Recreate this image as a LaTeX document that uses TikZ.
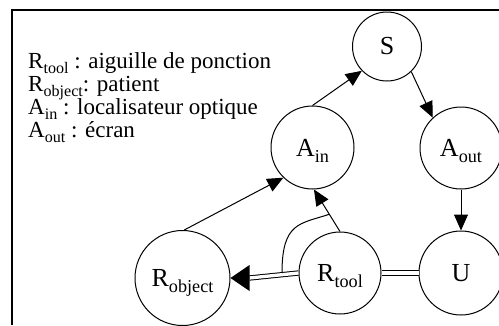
\documentclass[tikz,border=0pt]{standalone}
\usepackage{fontspec}
\usepackage{graphicx}
\setmainfont{Liberation Serif}
\usetikzlibrary{arrows.meta,calc}
% lowered, reduced subscript with no height or depth of its own
\newcommand\lowsub[1]{\raisebox{-0.24em}[0pt][0pt]{\scalebox{0.7}{#1}}}
\tikzset{
  state/.style={circle, draw, line width=1pt, inner sep=0pt, minimum size=#1,
    font=\fontsize{26}{26}\selectfont},
  link/.style={line width=1pt},
  tip/.style={-{Triangle[length=16pt,width=14pt]}},
  twin/.style={double, double distance=3.3pt, line width=1pt},
  legend/.style={anchor=base west, inner sep=0pt, font=\fontsize{23}{23}\selectfont},
}
\begin{document}
\begin{tikzpicture}[x=1pt, y=-1pt]
\useasboundingbox (0,0) rectangle (499,325);
\fill[white] (0,0) rectangle (499,325);
% frame
\draw[line width=2pt] (12,325) -- (12,10) -- (499,10);

% legend
\node[legend] (l1) at (28,68) {R\lowsub{tool} : aiguille de ponction};
\node[legend] (l2) at (28,91) {R\lowsub{object}: patient};
\node[legend] (l3) at (28,114) {A\lowsub{in} : localisateur optique};
\node[legend] (l4) at (28,137) {A\lowsub{out} : écran};

% states
\node[state=69pt] (S) at (387,46.5) {S};
\node[state=83pt] (Ain) at (312.5,147.5) {A\lowsub{in}};
\node[state=82pt] (Aout) at (461,148) {A\lowsub{out}};
\node[state=84pt] (U) at (461,273) {U};
\node[state=82pt] (Rtool) at (340,273) {R\lowsub{tool}};
\node[state=95pt] (Robj) at (182.5,278) {R\lowsub{object}};

% arrows
\draw[link, tip] (Ain.north) -- (S.224);
\draw[link, tip] (S.314) -- (Aout.133);
\draw[link, tip] (Aout.south) -- (U.north);
\draw[link, tip] (Robj.88) -- (Ain.226);
\draw[link, tip] (Rtool.north) -- (Ain.272);
\draw[twin] (Rtool.east) -- (U.west);
% double shaft ending in a large solid head
\coordinate (headtip) at (Robj.east);
\coordinate (headbase) at ($(headtip)+(19,0)$);
\draw[twin] (Rtool.west) -- (headbase);
\fill (headtip) -- ($(headbase)+(0,-13)$) -- ($(headbase)+(0,13)$) -- cycle;

% link from the double line to the R_tool -> A_in arrow
\coordinate (c1) at (282,273);
\coordinate (c2) at ($(Rtool.north)!0.41!(Ain.272)$);
\draw[link] (c1) .. controls (282,222) and (300,224) .. (c2);
\end{tikzpicture}
\end{document}
